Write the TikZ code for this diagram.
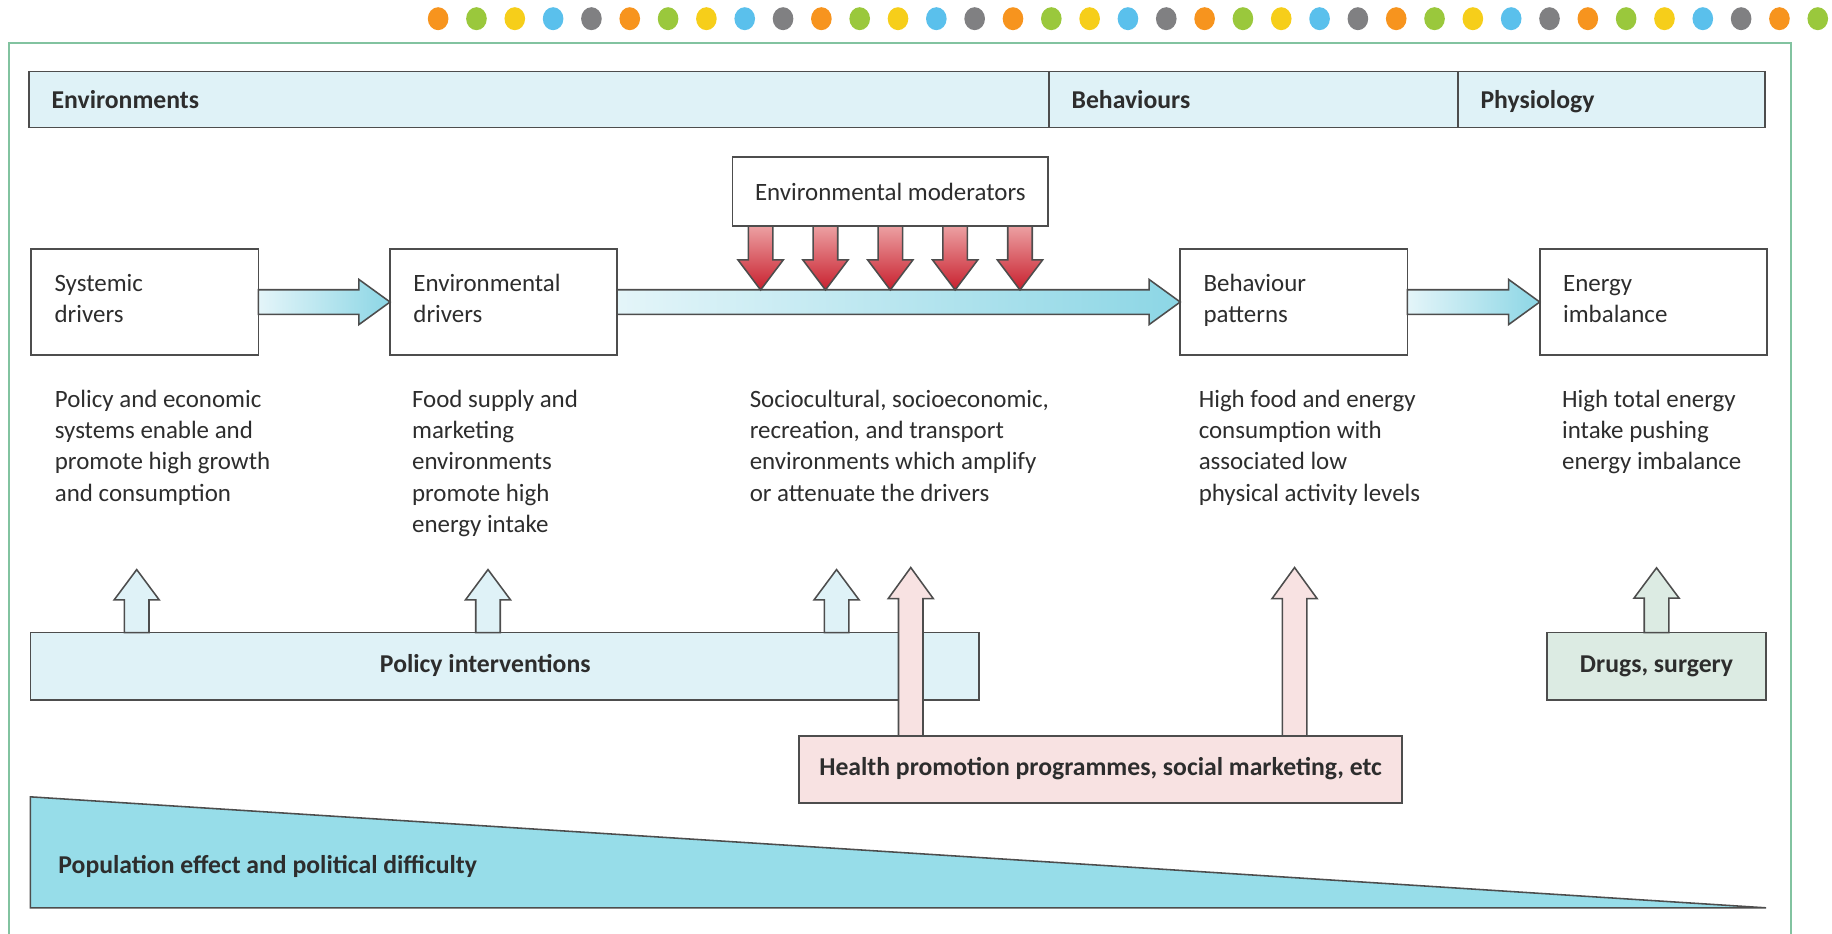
\documentclass[tikz,border=0pt]{standalone}
\usepackage{fontspec}
\setmainfont{Carlito}
\usetikzlibrary{calc,positioning}

\definecolor{edgecol}{RGB}{77,77,77}
\definecolor{textcol}{RGB}{45,45,45}
\definecolor{framecol}{RGB}{130,195,160}
\definecolor{headfill}{RGB}{223,242,247}
\definecolor{pinkfill}{RGB}{248,226,226}
\definecolor{drugfill}{RGB}{220,235,227}
\definecolor{wedgefill}{RGB}{151,221,233}
\definecolor{arrlight}{RGB}{228,245,249}
\definecolor{arrdark}{RGB}{140,214,229}
\definecolor{redlight}{RGB}{236,160,162}
\definecolor{reddark}{RGB}{200,32,46}
\definecolor{dot0}{RGB}{247,148,30}
\definecolor{dot1}{RGB}{154,200,60}
\definecolor{dot2}{RGB}{246,206,26}
\definecolor{dot3}{RGB}{90,192,236}
\definecolor{dot4}{RGB}{128,128,130}

\newcommand\descfont{\fontsize{12.8}{16}\selectfont}
\newcommand\labelfont{\bfseries\fontsize{13.2}{16}\selectfont}

% block arrow pointing right, from one box to the next
\newcommand\harrow[2]{%
  \path[harr] let \p1=(#1.east), \p2=(#2.west) in
    (\x1,{\y1+6.3pt}) -- ({\x2-16pt},{\y1+6.3pt}) -- ({\x2-16pt},{\y1+11.6pt})
    -- (\x2,\y1) -- ({\x2-16pt},{\y1-11.6pt}) -- ({\x2-16pt},{\y1-6.3pt})
    -- (\x1,{\y1-6.3pt}) -- cycle;}
% block arrow up (+) or down (-): style, base, length, head length
\newcommand\varrow[4]{%
  \path[#1] #2 ++(-6.3pt,0pt) -- ++(0pt,{(#3)-(#4)}) -- ++(-5.3pt,0pt)
    -- ++(11.6pt,#4) -- ++(11.6pt,{-1*(#4)}) -- ++(-5.3pt,0pt)
    -- ++(0pt,{(#4)-(#3)}) -- cycle;}

\tikzset{
  every node/.style={text=textcol, outer sep=0pt},
  hdr/.style={draw=edgecol, fill=headfill, line width=0.8pt, minimum height=28.6pt,
    inner xsep=11.5pt, text height=11pt, text depth=2pt, align=left, font=\labelfont},
  box/.style={draw=edgecol, fill=white, line width=0.8pt, minimum height=54.6pt,
    text width=92.6pt, inner xsep=12pt, text height=9pt, text depth=19.6pt,
    align=left, font=\descfont},
  modbox/.style={draw=edgecol, fill=white, line width=0.8pt, minimum width=162pt,
    minimum height=35.4pt, font=\descfont},
  desc/.style={anchor=north west, align=left, inner sep=0pt, font=\descfont},
  bar/.style={draw=edgecol, line width=0.8pt, minimum height=34.5pt,
    text height=9pt, text depth=2.8pt, font=\labelfont},
  harr/.style={draw=edgecol, line width=0.8pt, left color=arrlight, right color=arrdark},
  redarr/.style={draw=edgecol, line width=0.8pt, top color=redlight, bottom color=reddark},
  uparr/.style={draw=edgecol, line width=0.8pt, fill=#1},
}

\begin{document}
\begin{tikzpicture}[x=0.6pt, y=-0.6pt]
    \useasboundingbox (0,0) rectangle (1568,799.4);
    \foreach \i in {0,...,36}{
        \pgfmathtruncatemacro\c{mod(\i,5)}
        \fill[dot\c] ({375+\i*32.8},16) ellipse (5.3pt and 5.9pt);
    }
    \draw[framecol, line width=1pt] (7.5,800) -- (7.5,36.5) -- (1533,36.5) -- (1533,800);

    \node[hdr, text width=500.8pt] (envh) at (461.5,85.2) {Environments};
    \node[hdr, text width=187pt, right=0pt of envh] (behh) {Behaviours};
    \node[hdr, text width=134.6pt, right=0pt of behh] (phyh) {Physiology};

    \node[box] (sys) at (123.9,258.5) {Systemic\\drivers};
    \node[box] (envd) at (431,258.5) {Environmental\\drivers};
    \node[box] (behav) at (1107.3,258.5) {Behaviour\\patterns};
    \node[box] (energy) at (1415,258.5) {Energy\\imbalance};
    \node[modbox] (mod) at (762,164) {Environmental moderators};

    \harrow{sys}{envd}
    \harrow{envd}{behav}
    \harrow{behav}{energy}
    \foreach \i in {-2,...,2}{
        \varrow{redarr}{($(mod.south)+(\i*33.3pt,0pt)$)}{-32.8pt}{-15.4pt}
    }

    \node[desc] (d1) at (47,334) {Policy and economic\\systems enable and\\promote high growth\\and consumption};
    \node[desc] (d2) at (352.7,334) {Food supply and\\marketing\\environments\\promote high\\energy intake};
    \node[desc] (d3) at (641.7,334) {Sociocultural, socioeconomic,\\recreation, and transport\\environments which amplify\\or attenuate the drivers};
    \node[desc] (d4) at (1026,334) {High food and energy\\consumption with\\associated low\\physical activity levels};
    \node[desc] (d5) at (1337,334) {High total energy\\intake pushing\\energy imbalance};

    \node[bar, fill=headfill, minimum width=487.2pt] (pol) at (432,570.25) {Policy interventions\hspace*{20pt}};
    \foreach \dx in {54.6,235,414}{
        \varrow{uparr=headfill}{($(pol.north west)+(\dx pt,0pt)$)}{32.4pt}{15.6pt}
    }
    \node[bar, fill=pinkfill, minimum width=309.6pt] (health) at (942,658.5) {Health promotion programmes, social marketing, etc};
    \foreach \dx in {57.3,254.4}{
        \varrow{uparr=pinkfill}{($(health.north west)+(\dx pt,0pt)$)}{86.4pt}{16pt}
    }
    \node[bar, fill=drugfill, minimum width=112.6pt] (drugs) at (1417.8,570.25) {Drugs, surgery};
    \varrow{uparr=drugfill}{(drugs.north)}{33.3pt}{15.6pt}

    \draw[draw=edgecol, line width=0.8pt, fill=wedgefill] (26,682) -- (1511.5,777) -- (26,777) -- cycle;
    \node[anchor=base west, inner sep=0pt, font=\labelfont] (popl) at (50,747.5) {Population effect and political difficulty};
\end{tikzpicture}
\end{document}
